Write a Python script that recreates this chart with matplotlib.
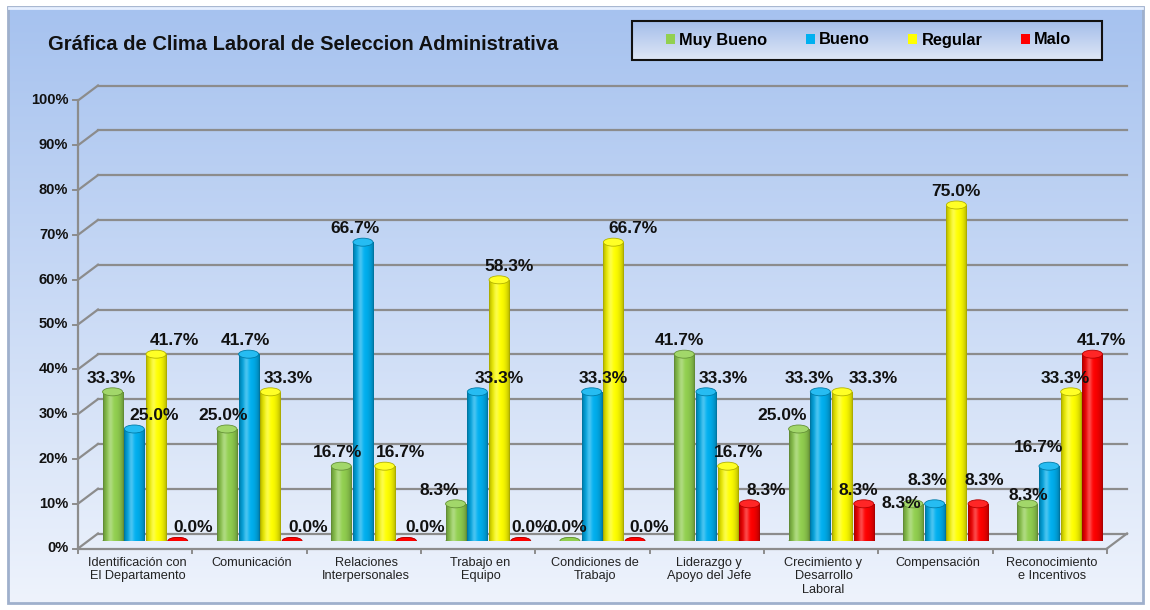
import numpy as np
import matplotlib.pyplot as plt
from matplotlib.patches import Ellipse, Rectangle
from matplotlib.colors import to_rgb

plt.rcParams['font.family'] = ['Liberation Sans', 'DejaVu Sans']

# --- data
categories = ["Identificación con\nEl Departamento", "Comunicación", "Relaciones\nInterpersonales",
              "Trabajo en\nEquipo", "Condiciones de\nTrabajo", "Liderazgo y\nApoyo del Jefe",
              "Crecimiento y\nDesarrollo\nLaboral", "Compensación", "Reconocimiento\ne Incentivos"]
series = ["Muy Bueno", "Bueno", "Regular", "Malo"]
muy_bueno = [33.3, 25.0, 16.7, 8.3, 0.0, 41.7, 25.0, 8.3, 8.3]
bueno = [25.0, 41.7, 66.7, 33.3, 33.3, 33.3, 33.3, 8.3, 16.7]
regular = [41.7, 33.3, 16.7, 58.3, 66.7, 16.7, 33.3, 75.0, 33.3]
malo = [0.0, 0.0, 0.0, 0.0, 0.0, 8.3, 8.3, 8.3, 41.7]
y_ticks = [0, 10, 20, 30, 40, 50, 60, 70, 80, 90, 100]

colors = ["#92d050", "#00b0f0", "#ffff00", "#ff0000"]

# value-label nudges in pixels (x per category/series, y default 9) as placed in the original
label_dx = [[-1, 20, 18, 15], [-4, -3, 18, 16], [-4, -8, 16, 19], [-16, 22, 10, 10],
            [-3, 12, 20, 14], [-5, 17, 11, 17], [-16, -11, 31, -5], [-12, -7, 0, 6],
            [1, -10, -5, 9]]
label_dy = {(7, 0): -4, (7, 1): 19, (7, 3): 19, (8, 0): 4, (8, 1): 14}

W, H = 1150, 610
fig = plt.figure(figsize=(W / 100, H / 100), dpi=100)
fig.patch.set_facecolor("white")

# background panel with vertical gradient (pixel coordinates)
bg = fig.add_axes([0, 0, 1, 1], zorder=-10)
bg.set_xlim(0, W)
bg.set_ylim(H, 0)
bg.axis("off")
top_c = np.array(to_rgb("#a6c2ef"))
bot_c = np.array(to_rgb("#eef3fc"))
t = np.linspace(0, 1, 256)[:, None, None]
grad_bg = top_c * (1 - t) + bot_c * t
bg.imshow(grad_bg, extent=[8, 1143, 603, 7], aspect="auto", zorder=0)
bg.add_patch(Rectangle((8, 7), 1135, 596, fill=False, edgecolor="#9fb0cc", lw=2, zorder=1))
bg.plot([9, 1142], [8, 8], color="#e6efff", lw=2, zorder=1)

# legend box
leg_top = np.array(to_rgb("#a3bdea"))
leg_bot = np.array(to_rgb("#dfe7f6"))
grad_leg = leg_top * (1 - t) + leg_bot * t
bg.imshow(grad_leg, extent=[632, 1102, 60, 21], aspect="auto", zorder=2)
bg.add_patch(Rectangle((632, 21), 470, 39, fill=False, edgecolor="#111111", lw=1.5, zorder=3))

bg.text(48, 44, "Gráfica de Clima Laboral de Seleccion Administrativa", fontsize=14.5,
        fontweight="bold", ha="left", va="center", color="#111111")

# main axes, placed at mid depth of the pseudo-3D box
ax = fig.add_axes([88 / W, 69 / H, 1029 / W, 448 / H])
ax.set_xlim(-0.5, len(categories) - 0.5)
ax.set_ylim(0, 100)
ax.patch.set_alpha(0)
for s in ax.spines.values():
    s.set_visible(False)
ax.set_xticks([])
ax.set_yticks([])

DX = 10 / 114.33   # depth offset in data units
DY = 7.5 / 4.48
n = len(categories)
x = np.arange(n)
grid_c = "#8c8c8c"

# back wall gridlines and side diagonals
for v in y_ticks:
    ax.plot([-0.5 + DX, n - 0.5 + DX], [v + DY, v + DY], color=grid_c, lw=1.6, zorder=1, clip_on=False)
    ax.plot([-0.5 - DX, -0.5 + DX], [v - DY, v + DY], color=grid_c, lw=1.6, zorder=1, clip_on=False)
    ax.plot([-0.5 - DX - 0.045, -0.5 - DX], [v - DY, v - DY], color=grid_c, lw=1.4, zorder=1, clip_on=False)
    ax.text(-0.5 - DX - 0.085, v - DY, f"{v}%", ha="right", va="center", fontsize=10.5,
            fontweight="bold", color="#111111")
# front axis, floor edge
ax.plot([-0.5 - DX, -0.5 - DX], [-DY, 100 - DY], color=grid_c, lw=1.6, zorder=1, clip_on=False)
ax.plot([-0.5 - DX, n - 0.5 - DX], [-DY, -DY], color=grid_c, lw=1.6, zorder=1, clip_on=False)
ax.plot([n - 0.5 - DX, n - 0.5 + DX], [-DY, DY], color=grid_c, lw=1.6, zorder=1, clip_on=False)
for k in range(n + 1):
    ax.plot([k - 0.5 - DX, k - 0.5 - DX], [-DY, -DY - 1.1], color=grid_c, lw=1.4, zorder=1, clip_on=False)
for k, c in enumerate(categories):
    ax.text(k - DX + 0.02, -DY - 1.9, c, ha="center", va="top", fontsize=9.2, color="#222222",
            linespacing=1.15)


def cyl_gradient(color):
    base = np.array(to_rgb(color))
    u = np.linspace(0, 1, 64)
    shade = 0.6 + 0.4 * np.sin(np.pi * u) ** 0.5
    rgb = base[None, :] * shade[:, None]
    hl = 0.28 * np.exp(-((u - 0.35) / 0.13) ** 2)
    rgb = rgb + (1 - rgb) * hl[:, None]
    return rgb[None, :, :]


width = 0.175
step = 0.19
eh = 8 / 4.48
all_vals = [muy_bueno, bueno, regular, malo]
for i, (name, vals, col) in enumerate(zip(series, all_vals, colors)):
    xs = x + (i - 1.5) * step
    bars = ax.bar(xs, vals, width, color=col, edgecolor="none", zorder=3, label=name)
    grad = cyl_gradient(col)
    dark = np.array(to_rgb(col)) * 0.7
    light = np.array(to_rgb(col))
    light = light + (1 - light) * 0.15
    for k, (xc, v, p) in enumerate(zip(xs, vals, bars.patches)):
        ax.add_patch(Ellipse((xc, 0), width, eh, facecolor=dark, edgecolor="none", zorder=2.9))
        if v > 0:
            im = ax.imshow(grad, extent=[xc - width / 2, xc + width / 2, 0, v], aspect="auto", zorder=3.1)
            im.set_clip_path(p)
            ax.add_patch(Ellipse((xc, v), width, eh, facecolor=light, edgecolor=dark, lw=0.6, zorder=3.2))
        else:
            ax.add_patch(Ellipse((xc, 0), width, eh * 0.9, facecolor=col, edgecolor=dark, lw=0.6, zorder=3.2))
        ax.annotate(f"{v:.1f}%", (xc, v), xytext=(label_dx[k][i], label_dy.get((k, i), 9)),
                    textcoords="offset pixels", ha="center", va="baseline", fontsize=12.5,
                    fontweight="bold", color="#111111", zorder=5)

ax.set_xlim(-0.5, n - 0.5)
ax.set_ylim(0, 100)

ax.legend(loc="center", bbox_to_anchor=(659 / W, 1 - 58 / H, 419 / W, 36 / H),
          bbox_transform=fig.transFigure, mode="expand", ncol=4, frameon=False,
          handlelength=0.55, handleheight=0.55, handletextpad=0.25, borderaxespad=0,
          prop={"weight": "bold", "size": 11.8})

fig.savefig("out.png", dpi=100)
